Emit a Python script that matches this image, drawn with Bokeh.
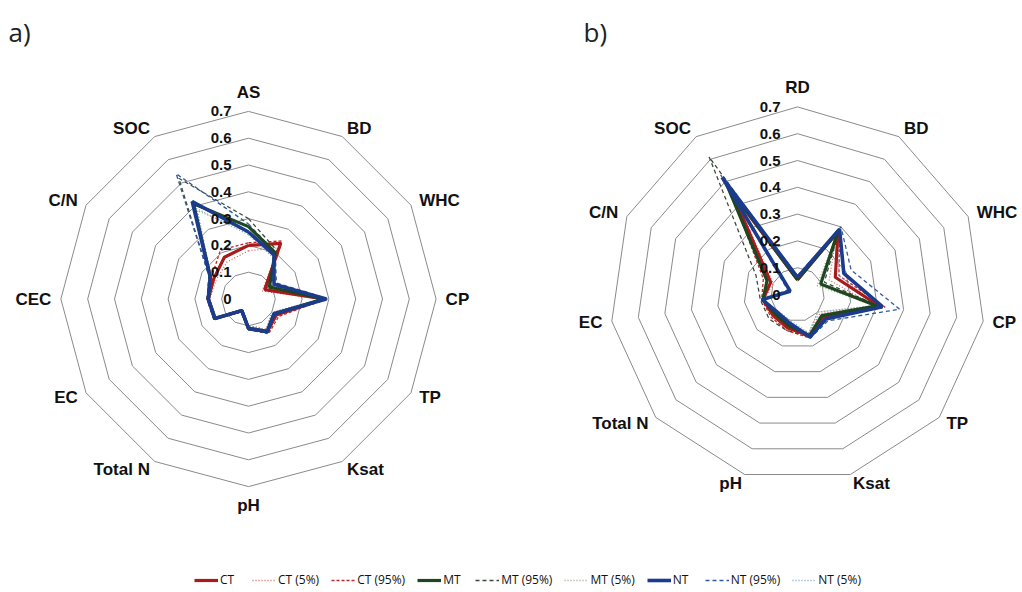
import math
from bokeh.plotting import figure
from bokeh.models import Range1d, Legend, LegendItem
from bokeh.core.properties import value
from bokeh.embed import file_html
from bokeh.resources import INLINE

# ---------------- data ----------------
cats_a = ["AS", "BD", "WHC", "CP", "TP", "Ksat", "pH", "Total N", "EC", "CEC", "C/N", "SOC"]
cats_b = ["RD", "BD", "WHC", "CP", "TP", "Ksat", "pH", "Total N", "EC", "C/N", "SOC"]
tick_values = [0, 0.1, 0.2, 0.3, 0.4, 0.5, 0.6, 0.7]
tick_labels = ["0", "0.1", "0.2", "0.3", "0.4", "0.5", "0.6", "0.7"]
series_names = ["CT", "CT (5%)", "CT (95%)", "MT", "MT (95%)", "MT (5%)", "NT", "NT (95%)", "NT (5%)"]

# panel a)
a_ct    = [0.20, 0.24, 0.07, 0.28, 0.12, 0.14, 0.11, 0.05, 0.145, 0.15, 0.15, 0.18]
a_ct5   = [0.18, 0.22, 0.06, 0.27, 0.11, 0.13, 0.10, 0.045, 0.14, 0.145, 0.14, 0.16]
a_ct95  = [0.21, 0.25, 0.08, 0.29, 0.13, 0.15, 0.115, 0.055, 0.15, 0.155, 0.16, 0.21]
a_mt    = [0.27, 0.20, 0.09, 0.28, 0.11, 0.14, 0.11, 0.05, 0.145, 0.15, 0.165, 0.41]
a_mt95  = [0.30, 0.21, 0.10, 0.29, 0.12, 0.145, 0.115, 0.055, 0.15, 0.155, 0.17, 0.52]
a_mt5   = [0.25, 0.19, 0.08, 0.27, 0.10, 0.13, 0.10, 0.045, 0.14, 0.145, 0.16, 0.38]
a_nt    = [0.25, 0.19, 0.11, 0.29, 0.11, 0.14, 0.11, 0.05, 0.145, 0.15, 0.165, 0.42]
a_nt95  = [0.28, 0.20, 0.12, 0.30, 0.12, 0.145, 0.115, 0.055, 0.15, 0.155, 0.17, 0.54]
a_nt5   = [0.24, 0.18, 0.10, 0.28, 0.10, 0.135, 0.10, 0.045, 0.14, 0.145, 0.16, 0.39]

# panel b)
b_ct    = [0.055, 0.28, 0.155, 0.31, 0.13, 0.16, 0.13, 0.12, 0.13, 0.11, 0.45]
b_ct5   = [0.05, 0.27, 0.13, 0.29, 0.11, 0.15, 0.12, 0.11, 0.125, 0.10, 0.42]
b_ct95  = [0.06, 0.29, 0.17, 0.33, 0.14, 0.17, 0.14, 0.13, 0.135, 0.14, 0.47]
b_mt    = [0.055, 0.28, 0.095, 0.30, 0.12, 0.16, 0.12, 0.11, 0.13, 0.125, 0.49]
b_mt95  = [0.06, 0.29, 0.11, 0.31, 0.13, 0.165, 0.14, 0.14, 0.14, 0.17, 0.61]
b_mt5   = [0.05, 0.27, 0.08, 0.29, 0.10, 0.15, 0.11, 0.10, 0.125, 0.11, 0.45]
b_nt    = [0.064, 0.29, 0.19, 0.32, 0.14, 0.165, 0.11, 0.10, 0.133, 0.03, 0.52]
b_nt95  = [0.07, 0.30, 0.22, 0.385, 0.15, 0.17, 0.115, 0.105, 0.135, 0.04, 0.53]
b_nt5   = [0.06, 0.28, 0.17, 0.30, 0.10, 0.15, 0.10, 0.095, 0.13, 0.03, 0.50]

data_a = [a_ct, a_ct5, a_ct95, a_mt, a_mt95, a_mt5, a_nt, a_nt95, a_nt5]
data_b = [b_ct, b_ct5, b_ct95, b_mt, b_mt95, b_mt5, b_nt, b_nt95, b_nt5]

# ---------------- styles ----------------
styles = {
    "CT":       dict(line_color="#A91B1B", line_width=3.2, line_dash="solid"),
    "CT (5%)":  dict(line_color="#D96060", line_width=1.3, line_dash="1 2"),
    "CT (95%)": dict(line_color="#C0282D", line_width=1.3, line_dash="3 2"),
    "MT":       dict(line_color="#1E4620", line_width=3.2, line_dash="solid"),
    "MT (95%)": dict(line_color="#3B4A3B", line_width=1.3, line_dash="4 3"),
    "MT (5%)":  dict(line_color="#9AA67A", line_width=1.3, line_dash="1 2"),
    "NT":       dict(line_color="#1B3C8C", line_width=3.6, line_dash="solid"),
    "NT (95%)": dict(line_color="#2F5C9E", line_width=1.3, line_dash="4 3"),
    "NT (5%)":  dict(line_color="#7B9FD0", line_width=1.3, line_dash="1 2"),
}
draw_order = ["CT (5%)", "CT (95%)", "MT (95%)", "MT (5%)", "NT (95%)", "NT (5%)", "CT", "MT", "NT"]

W, H = 1020, 590
SCALE = 268.0
centers = {"a": (248.0, 298.5), "b": (797.0, 294.0)}
LABEL_PX = 17
LABEL_GAP = 9.5

p = figure(width=W, height=H, x_range=Range1d(0, W), y_range=Range1d(H, 0),
           output_backend="svg", toolbar_location=None, min_border=0,
           x_axis_location=None, y_axis_location=None)
p.grid.visible = False
p.outline_line_color = None
p.background_fill_color = "white"

LABEL_FONT = value("Liberation Sans")


def polar(cx, cy, v, i, n):
    th = 2 * math.pi * i / n
    return cx + v * SCALE * math.sin(th), cy - v * SCALE * math.cos(th)


renderers = {}


def draw_panel(key, cats, data, tag, tag_x):
    cx, cy = centers[key]
    n = len(cats)
    for v in tick_values[1:]:
        pts = [polar(cx, cy, v, i, n) for i in range(n)] + [polar(cx, cy, v, 0, n)]
        p.line([q[0] for q in pts], [q[1] for q in pts], line_color="#8a8a8a", line_width=1)
    lookup = dict(zip(series_names, data))
    for name in draw_order:
        vals = lookup[name]
        pts = [polar(cx, cy, v, i, n) for i, v in enumerate(vals)]
        pts.append(pts[0])
        r = p.line([q[0] for q in pts], [q[1] for q in pts], **styles[name])
        if key == "a":
            renderers[name] = r
    p.text(x=[cx - 17] * len(tick_values), y=[cy - v * SCALE for v in tick_values],
           text=tick_labels, text_align="right", text_baseline="middle",
           text_font=LABEL_FONT, text_font_style="bold", text_font_size="15px",
           text_color="#111111")
    # category labels: anchored just outside the outer ring, on the side facing away
    vmax = max(tick_values) + LABEL_GAP / SCALE
    groups = {}
    for i, c in enumerate(cats):
        th = 2 * math.pi * i / n
        s, co = math.sin(th), math.cos(th)
        x, y = polar(cx, cy, vmax, i, n)
        if s > 0.1:
            al, bl = "left", "middle"
        elif s < -0.1:
            al, bl = "right", "middle"
        else:
            al = "center"
            bl = "bottom" if co > 0 else "top"
        groups.setdefault((al, bl), ([], [], []))
        g = groups[(al, bl)]
        g[0].append(x)
        g[1].append(y)
        g[2].append(c)
    for (al, bl), (xs, ys, ts) in groups.items():
        p.text(x=xs, y=ys, text=ts, text_align=al, text_baseline=bl,
               text_font=LABEL_FONT, text_font_style="bold", text_font_size=f"{LABEL_PX}px",
               text_color="#111111")
    p.text(x=[tag_x], y=[31], text=[tag],
           text_align="left", text_baseline="middle", text_font=value("Open Sans"),
           text_font_size="26px", text_color="#222222")


draw_panel("a", cats_a, data_a, "a)", 8)
draw_panel("b", cats_b, data_b, "b)", 583)

legend = Legend(items=[LegendItem(label=nm, renderers=[renderers[nm]]) for nm in series_names],
                orientation="horizontal", location=(194, 2))
legend.background_fill_alpha = 0
legend.border_line_color = None
legend.glyph_width = 24
legend.glyph_height = 12
legend.label_standoff = 2
legend.spacing = 12
legend.padding = 0
legend.margin = 0
legend.label_text_font = "Open Sans"
legend.label_text_font_size = "12px"
legend.label_text_color = "#111111"
legend.label_height = 14
p.add_layout(legend)

open("out.html", "w").write(file_html(p, INLINE))
